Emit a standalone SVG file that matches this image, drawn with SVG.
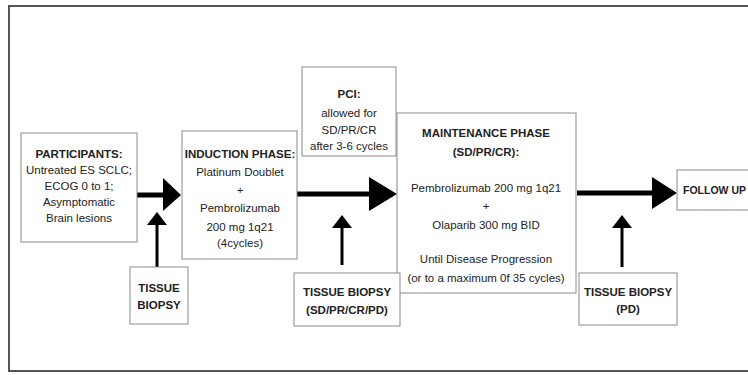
<svg xmlns="http://www.w3.org/2000/svg" width="748" height="375" viewBox="0 0 748 375">
<defs>
<style>
.frame{fill:none;stroke:#555;stroke-width:2}
.box{fill:#fff;stroke:#8a8a8a;stroke-width:1}
text{font-family:"Liberation Sans",Arial,sans-serif;font-size:11.5px;fill:#222;text-anchor:middle}
.b{font-weight:bold}
.main{stroke:#000;stroke-width:5;fill:none}
.up{stroke:#000;stroke-width:3;fill:none}
.head{fill:#000}
</style>
</defs>
<rect width="748" height="375" fill="#fff"/>
<rect class="frame" x="9" y="6" width="760" height="365"/>
<g id="connectors">
<line class="main" x1="137" y1="195" x2="165" y2="195"/>
<polygon class="head" points="163,178 181,195 163,211"/>
<line class="main" x1="297" y1="194" x2="372" y2="194"/>
<polygon class="head" points="369,177 397,194 369,211"/>
<line class="main" x1="577" y1="193" x2="654" y2="193"/>
<polygon class="head" points="652,177 677,193 652,209"/>
<line class="up" x1="157" y1="267" x2="157" y2="222"/>
<polygon class="head" points="147,225 157,212 167,225"/>
<line class="up" x1="342" y1="265" x2="342" y2="225"/>
<polygon class="head" points="332,228 342,215 352,228"/>
<line class="up" x1="622" y1="267" x2="622" y2="225"/>
<polygon class="head" points="612,228 622,215 632,228"/>
</g>
<g id="participants">
<rect class="box" x="21" y="133" width="116" height="109"/>
<text class="b" x="79" y="158">PARTICIPANTS:</text>
<text x="79" y="174">Untreated ES SCLC;</text>
<text x="79" y="190">ECOG 0 to 1;</text>
<text x="79" y="206">Asymptomatic</text>
<text x="79" y="222">Brain lesions</text>
</g>
<g id="induction">
<rect class="box" x="182" y="131" width="115" height="128"/>
<text class="b" x="240" y="158">INDUCTION PHASE:</text>
<text x="240" y="176">Platinum Doublet</text>
<text x="240" y="194">+</text>
<text x="240" y="212">Pembrolizumab</text>
<text x="240" y="231">200 mg 1q21</text>
<text x="240" y="247">(4cycles)</text>
</g>
<g id="pci">
<rect class="box" x="302" y="67" width="94" height="89"/>
<text class="b" x="349" y="98">PCI:</text>
<text x="349" y="117">allowed for</text>
<text x="349" y="134">SD/PR/CR</text>
<text x="349" y="150">after 3-6 cycles</text>
</g>
<g id="maintenance">
<rect class="box" x="397" y="113" width="179" height="180"/>
<text class="b" x="486" y="137">MAINTENANCE PHASE</text>
<text class="b" x="486" y="156">(SD/PR/CR):</text>
<text x="486" y="192">Pembrolizumab 200 mg 1q21</text>
<text x="486" y="210">+</text>
<text x="486" y="229">Olaparib 300 mg BID</text>
<text x="486" y="263">Until Disease Progression</text>
<text x="486" y="282">(or to a maximum 0f 35 cycles)</text>
</g>
<g id="followup">
<rect class="box" x="677" y="170" width="100" height="40"/>
<text class="b" x="683" y="194" style="text-anchor:start;font-size:10.5px">FOLLOW UP</text>
</g>
<g id="biopsy1">
<rect class="box" x="130" y="267" width="58" height="57"/>
<text class="b" x="159" y="292">TISSUE</text>
<text class="b" x="159" y="309">BIOPSY</text>
</g>
<g id="biopsy2">
<rect class="box" x="294" y="273" width="106" height="53"/>
<text class="b" x="347" y="296">TISSUE BIOPSY</text>
<text class="b" x="347" y="314">(SD/PR/CR/PD)</text>
</g>
<g id="biopsy3">
<rect class="box" x="579" y="273" width="98" height="52"/>
<text class="b" x="628" y="296">TISSUE BIOPSY</text>
<text class="b" x="628" y="313">(PD)</text>
</g>
</svg>
